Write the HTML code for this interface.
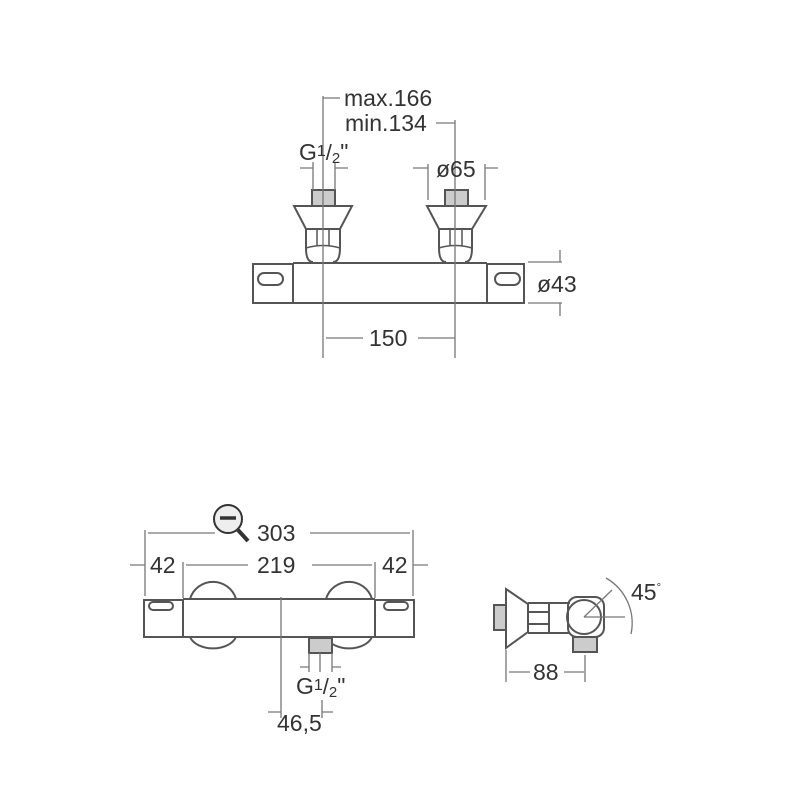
<!DOCTYPE html>
<html><head><style>
html,body{margin:0;padding:0;background:#fff;}
svg{display:block;}
text{font-family:"Liberation Sans",sans-serif;fill:#333;font-size:23px;}
</style></head><body>
<svg width="800" height="800" viewBox="0 0 800 800" xmlns="http://www.w3.org/2000/svg">
<g stroke="#555" stroke-width="2" fill="none">
<rect x="253" y="264" width="40" height="39"/>
<rect x="487" y="264" width="37" height="39"/>
<path d="M293 263 H487 M293 303 H487"/>
<rect x="258" y="273" width="25" height="12" rx="6"/>
<rect x="495" y="273" width="25" height="12" rx="6"/>
<rect x="312" y="190" width="23" height="16" fill="#ccc"/>
<path d="M294 206 H352 L340 229 H306 Z"/>
<path d="M306 229 V248 Q306 262 313 262 M340 229 V248 Q340 262 333 262"/>
<path d="M306 248 Q323 243 340 248" stroke-width="1.5"/>
<path d="M317 229 V246 M329 229 V246" stroke-width="1.5"/>
<rect x="445" y="190" width="23" height="16" fill="#ccc"/>
<path d="M427 206 H486 L472 229 H439 Z"/>
<path d="M439 229 V248 Q439 262 446 262 M472 229 V248 Q472 262 465 262"/>
<path d="M439 248 Q455 243 472 248" stroke-width="1.5"/>
<path d="M450 229 V246 M462 229 V246" stroke-width="1.5"/>
</g>
<g stroke="#777" stroke-width="1.3" fill="none">
<path d="M323 96 V358 M455 120 V358"/>
<path d="M323 98 H340 M436 123 H455"/>
<path d="M313 162 V190 M335 162 V190 M300 168 H313 M335 168 H348"/>
<path d="M428 164 V200 M485 164 V200 M413 168 H428 M485 168 H498"/>
<path d="M528 262 H562 M528 303 H562 M560 250 V262 M560 303 V316"/>
<path d="M326 338 H363 M418 338 H455"/>
</g>
<text x="344" y="106">max.166</text>
<text x="345" y="131">min.134</text>
<text x="299" y="160">G<tspan font-size="16" dy="-4">1</tspan><tspan font-size="22" dy="4">/</tspan><tspan font-size="15" dy="3">2</tspan><tspan dy="-3">"</tspan></text>
<text x="436" y="177">ø65</text>
<text x="537" y="292">ø43</text>
<text x="369" y="346">150</text>

<g stroke="#555" stroke-width="2" fill="none">
<path d="M190 599 A24 24 0 0 1 236 599"/>
<path d="M326 599 A24 24 0 0 1 372 599"/>
<path d="M190 637 A24 16 0 0 0 236 637"/>
<path d="M326 637 A24 16 0 0 0 372 637"/>
<rect x="144" y="600" width="39" height="37"/>
<rect x="375" y="600" width="39" height="37"/>
<path d="M183 599 H375 M183 637 H375"/>
<rect x="149" y="602" width="24" height="8" rx="4"/>
<rect x="384" y="602" width="24" height="8" rx="4"/>
<rect x="309" y="638" width="23" height="15" fill="#ccc"/>
</g>
<g stroke="#777" stroke-width="1.3" fill="none">
<path d="M145 530 V596 M413 530 V596 M183 562 V598 M375 562 V598"/>
<path d="M148 533 H215 M310 533 H410"/>
<path d="M130 565 H145 M186 565 H248 M312 565 H372 M413 565 H428"/>
<path d="M281 597 V718"/>
<path d="M309 653 V672 M332 653 V672 M300 667 H309 M332 667 H341 M320 653 V672"/>
<path d="M268 712 H281 M322 712 H333 M322 700 V718"/>
</g>
<circle cx="228" cy="519" r="14" fill="#eee" stroke="#333" stroke-width="2"/>
<path d="M220 518 H236" stroke="#333" stroke-width="3.5"/>
<path d="M238 530 L248 541" stroke="#333" stroke-width="4"/>
<text x="257" y="541">303</text>
<text x="150" y="573">42</text>
<text x="257" y="573">219</text>
<text x="382" y="573">42</text>
<text x="296" y="694">G<tspan font-size="16" dy="-4">1</tspan><tspan font-size="22" dy="4">/</tspan><tspan font-size="15" dy="3">2</tspan><tspan dy="-3">"</tspan></text>
<text x="277" y="731">46,5</text>

<g stroke="#555" stroke-width="2" fill="none">
<rect x="494" y="605" width="12" height="25" fill="#ccc"/>
<path d="M506 589 L528 604 V632 L506 648 Z"/>
<path d="M528 603 H570 M528 633 H570 M549 603 V633 M528 612 H549 M528 624 H549" />
<rect x="568" y="597" width="36" height="40" rx="9"/>
<circle cx="584" cy="617" r="17"/>
<rect x="573" y="637" width="24" height="15" fill="#ccc"/>
</g>
<g stroke="#777" stroke-width="1.3" fill="none">
<path d="M584 617 L612 590 M584 617 H625"/>
<path d="M606 578 A52 52 0 0 1 631 634"/>
<path d="M506 650 V682 M585 655 V682 M509 672 H530 M564 672 H584"/>
</g>
<text x="631" y="600">45<tspan font-size="11" dy="-9">°</tspan></text>
<text x="533" y="680">88</text>
</svg>
</body></html>
